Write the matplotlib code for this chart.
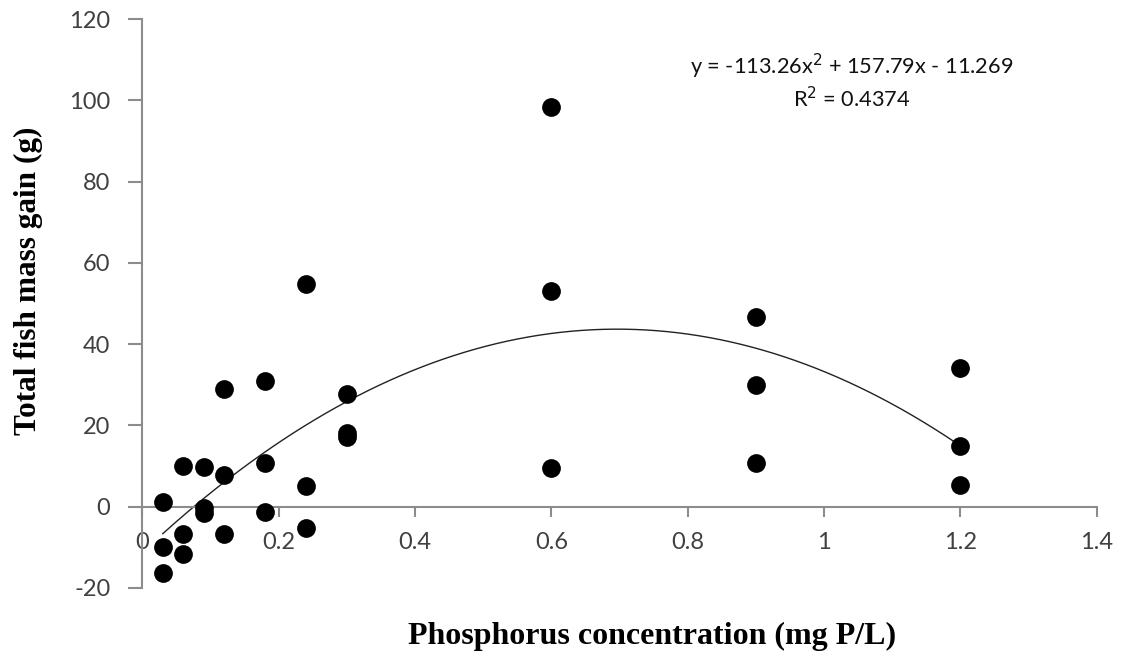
import matplotlib
matplotlib.use("Agg")
import matplotlib.pyplot as plt
import numpy as np

# Data
x_vals = [0.03, 0.03, 0.03,
          0.06, 0.06, 0.06,
          0.09, 0.09, 0.09,
          0.12, 0.12, 0.12,
          0.18, 0.18, 0.18,
          0.24, 0.24, 0.24,
          0.30, 0.30, 0.30,
          0.60, 0.60, 0.60,
          0.90, 0.90, 0.90,
          1.20, 1.20, 1.20]
y_vals = [1.2, -9.8, -16.4,
          10.1, -6.6, -11.7,
          9.8, -0.4, -1.6,
          29.0, 7.8, -6.6,
          30.9, 10.7, -1.2,
          54.8, 5.1, -5.3,
          27.7, 18.1, 17.2,
          98.3, 53.1, 9.5,
          46.7, 30.0, 10.7,
          34.1, 14.9, 5.3]

# Trendline coefficients (as displayed on the chart)
trend_coefs = [-113.26, 157.79, -11.269]
trend_x_range = [0.03, 1.2]

x_ticks = [0, 0.2, 0.4, 0.6, 0.8, 1.0, 1.2, 1.4]
x_tick_labels = ["0", "0.2", "0.4", "0.6", "0.8", "1", "1.2", "1.4"]
y_ticks = [-20, 0, 20, 40, 60, 80, 100, 120]

W, H = 1131, 657
fig = plt.figure(figsize=(W / 100, H / 100), dpi=100)
ax = fig.add_axes([142.3 / W, 1 - 588 / H, (1096.7 - 142.3) / W, (588 - 19) / H])

axis_color = "#8c8c8c"
tick_font = "Lato"

tx = np.linspace(trend_x_range[0], trend_x_range[1], 300)
ty = np.polyval(trend_coefs, tx)
ax.plot(tx, ty, color="#222222", lw=1.0, zorder=2)

ax.scatter(x_vals, y_vals, s=13.5 ** 2, color="black", zorder=3, linewidths=0)

ax.set_xlim(0, 1.4)
ax.set_ylim(-20, 120)

for s in ["top", "right"]:
    ax.spines[s].set_visible(False)
ax.spines["left"].set_color(axis_color)
ax.spines["bottom"].set_color(axis_color)
ax.spines["left"].set_linewidth(1.5)
ax.spines["bottom"].set_linewidth(1.5)
ax.spines["bottom"].set_position(("data", 0))

ax.set_xticks(x_ticks)
ax.set_xticklabels(x_tick_labels)
ax.set_yticks(y_ticks)
ax.set_yticklabels([str(v) for v in y_ticks])

ax.tick_params(axis="x", direction="out", length=7, width=1.5, color=axis_color,
               pad=11, labelsize=17, labelcolor="#404040")
ax.tick_params(axis="y", direction="out", length=10, width=1.5, color=axis_color,
               pad=13, labelsize=17, labelcolor="#404040")
for lab in ax.get_xticklabels() + ax.get_yticklabels():
    lab.set_fontfamily(tick_font)

fig.text(652 / W, 1 - 636 / H, "Phosphorus concentration (mg P/L)",
         ha="center", va="center", fontsize=23, fontweight="bold",
         family="Liberation Serif")
fig.text(28 / W, 1 - 281 / H, "Total fish mass gain (g)",
         ha="center", va="center", rotation=90, fontsize=22.5, fontweight="bold",
         family="Liberation Serif")

fig.text(852 / W, 1 - 66 / H, "y = -113.26x$^{2}$ + 157.79x - 11.269",
         ha="center", va="center", fontsize=15.7, family=tick_font, color="#111111")
fig.text(852 / W, 1 - 99 / H, "R$^{2}$ = 0.4374",
         ha="center", va="center", fontsize=15.7, family=tick_font, color="#111111")

fig.savefig("out.png", dpi=100)
